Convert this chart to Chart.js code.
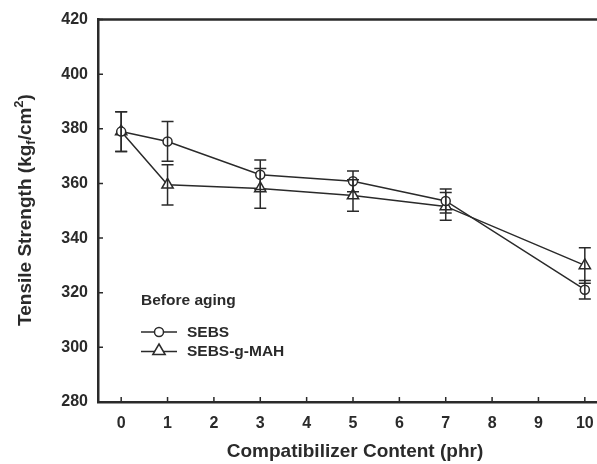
<!DOCTYPE html>
<html><head><meta charset="utf-8">
<script src="https://cdn.jsdelivr.net/npm/chart.js@4/dist/chart.umd.min.js"></script>
<style>html,body{margin:0;padding:0;overflow:hidden;background:#fff;width:597px;height:464px}</style>
</head><body>
<canvas id="c" width="630" height="464" style="width:630px;height:464px;display:block"></canvas>
<script>
// ---- data ----
const content   = [0, 1, 3, 5, 7, 10];                       // phr
const sebs      = [379.0, 375.4, 363.2, 360.8, 353.6, 321.1];
const sebsErr   = [7.3, 7.3, 5.4, 3.8, 4.4, 3.4];
const sebsMah   = [379.0, 359.5, 358.2, 355.6, 351.6, 330.0];
const sebsMahErr= [7.3, 7.4, 7.3, 5.8, 5.1, 6.5];
const xTicks    = [0,1,2,3,4,5,6,7,8,9,10];
const yTicks    = [280,300,320,340,360,380,400,420];
const seriesNames = ['SEBS', 'SEBS-g-MAH'];
const legendTitle = 'Before aging';
const xTitle = 'Compatibilizer Content (phr)';

const ink = '#2a2a2a';
const FONT = '"Liberation Sans", Arial, sans-serif';

function tri(ctx, cx, cy, r){
  ctx.beginPath();
  ctx.moveTo(cx, cy - r);
  ctx.lineTo(cx + r*0.95, cy + r*0.62);
  ctx.lineTo(cx - r*0.95, cy + r*0.62);
  ctx.closePath();
}

const decor = {
  id: 'decor',
  afterDatasetsDraw(chart){
    const {ctx, scales:{x, y}} = chart;
    ctx.save();
    ctx.strokeStyle = ink; ctx.lineWidth = 1.5;
    const cap = 6;
    const draw = (vals, errs) => {
      vals.forEach((v, i) => {
        const px = x.getPixelForValue(content[i]);
        const t = y.getPixelForValue(v + errs[i]);
        const b = y.getPixelForValue(v - errs[i]);
        ctx.beginPath();
        ctx.moveTo(px, t); ctx.lineTo(px, b);
        ctx.moveTo(px - cap, t); ctx.lineTo(px + cap, t);
        ctx.moveTo(px - cap, b); ctx.lineTo(px + cap, b);
        ctx.stroke();
      });
    };
    draw(sebs, sebsErr);
    draw(sebsMah, sebsMahErr);
    ctx.restore();
  },
  afterDraw(chart){
    const {ctx, chartArea:a, scales:{x, y}} = chart;
    ctx.save();
    ctx.strokeStyle = ink;
    // frame (top + right)
    ctx.lineWidth = 2.5;
    ctx.beginPath();
    ctx.moveTo(a.left, a.top); ctx.lineTo(a.right, a.top); ctx.lineTo(a.right, a.bottom);
    ctx.stroke();
    // inward ticks
    ctx.lineWidth = 1.5;
    ctx.beginPath();
    xTicks.forEach(v => { const p = x.getPixelForValue(v); ctx.moveTo(p, a.bottom); ctx.lineTo(p, a.bottom - 5); });
    yTicks.forEach(v => { const p = y.getPixelForValue(v); ctx.moveTo(a.left, p); ctx.lineTo(a.left + 5, p); });
    ctx.stroke();

    // legend
    ctx.fillStyle = ink;
    ctx.font = 'bold 15.5px ' + FONT;
    ctx.textBaseline = 'middle';
    ctx.textAlign = 'left';
    ctx.fillText(legendTitle, 141, 301);
    const rows = [332, 351.5];
    rows.forEach((ry, k) => {
      ctx.lineWidth = 1.5;
      ctx.beginPath(); ctx.moveTo(141, ry); ctx.lineTo(177, ry); ctx.stroke();
      ctx.fillStyle = '#fff';
      if (k === 0){ ctx.beginPath(); ctx.arc(159, ry, 4.5, 0, Math.PI*2); ctx.fill(); ctx.stroke(); }
      else { tri(ctx, 159, ry - 1, 6.5); ctx.fill(); ctx.stroke(); }
      ctx.fillStyle = ink;
      ctx.fillText(seriesNames[k], 187, ry + 0.5);
    });

    // x title
    ctx.font = 'bold 19px ' + FONT;
    ctx.textAlign = 'center';
    ctx.fillText(xTitle, 355, 452);

    // y title with subscript / superscript
    ctx.translate(26, 210);
    ctx.rotate(-Math.PI/2);
    const big = 'bold 19px ' + FONT, small = 'bold 13px ' + FONT;
    const parts = [
      {t:'Tensile Strength (kg', f:big, dy:0},
      {t:'f', f:small, dy:5},
      {t:'/cm', f:big, dy:0},
      {t:'2', f:small, dy:-7},
      {t:')', f:big, dy:0}
    ];
    let total = 0;
    parts.forEach(p => { ctx.font = p.f; p.w = ctx.measureText(p.t).width; total += p.w; });
    let cx = -total/2;
    ctx.textAlign = 'left';
    parts.forEach(p => { ctx.font = p.f; ctx.fillText(p.t, cx, p.dy); cx += p.w; });
    ctx.restore();
  }
};

const mkDs = (label, vals, style, r) => ({
  label,
  data: vals.map((v, i) => ({x: content[i], y: v})),
  borderColor: ink, borderWidth: 1.5,
  pointStyle: style, pointRadius: r, pointBorderWidth: 1.5,
  pointBackgroundColor: '#fff', pointBorderColor: ink,
  fill: false, tension: 0
});

new Chart(document.getElementById('c'), {
  type: 'line',
  data: { datasets: [ mkDs(seriesNames[0], sebs, 'circle', 4.5), mkDs(seriesNames[1], sebsMah, 'triangle', 6.5) ] },
  options: {
    responsive: false, animation: false, events: [],
    layout: { padding: { top: 19, right: 22, left: 0, bottom: 0 } },
    plugins: { legend: {display:false}, tooltip: {enabled:false} },
    scales: {
      x: {
        type: 'linear', min: -0.5, max: 10.5,
        afterBuildTicks: s => { s.ticks = xTicks.map(v => ({value: v})); },
        afterFit: s => { s.height = 62; },
        grid: { display: false, drawTicks: false },
        border: { display: true, color: ink, width: 2.5 },
        ticks: { color: ink, padding: 12, font: { family: FONT, size: 16, weight: 'bold' } }
      },
      y: {
        min: 280, max: 420,
        afterBuildTicks: s => { s.ticks = yTicks.map(v => ({value: v})); },
        afterFit: s => { s.width = 98; },
        grid: { display: false, drawTicks: false },
        border: { display: true, color: ink, width: 2.5 },
        ticks: { color: ink, padding: 10, font: { family: FONT, size: 16, weight: 'bold' } }
      }
    }
  },
  plugins: [decor]
});
</script>
</body></html>
